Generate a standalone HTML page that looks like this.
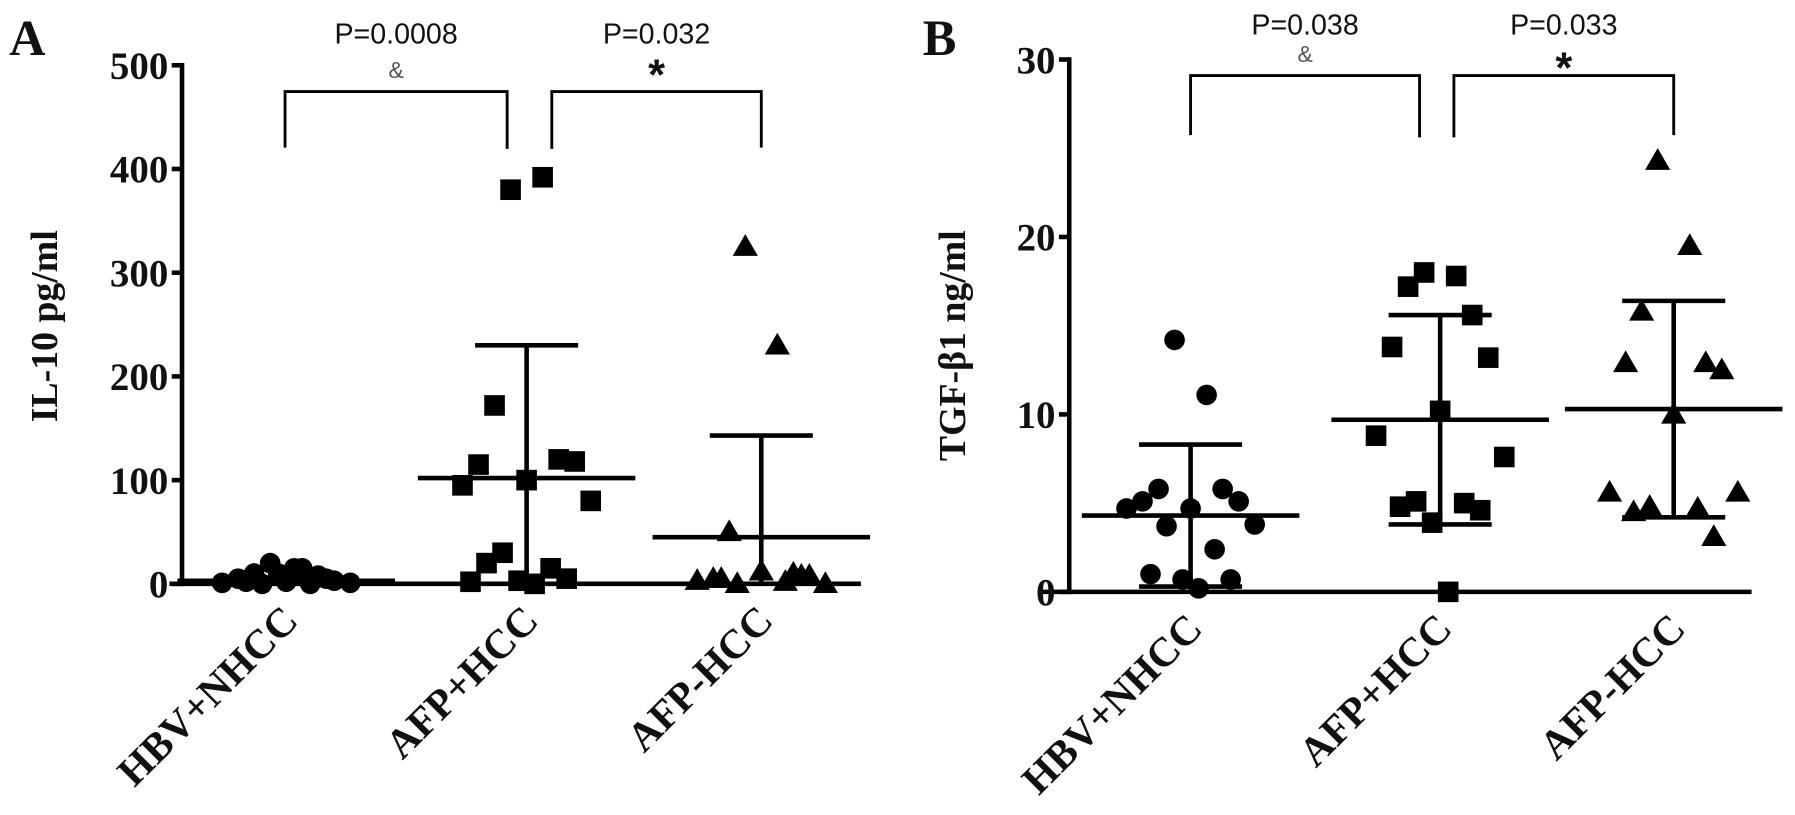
<!DOCTYPE html>
<html><head><meta charset="utf-8"><style>
body{margin:0;background:#fff}
svg{display:block}
.tk{font-family:"Liberation Serif",serif;font-size:34px;font-weight:bold;fill:#111}
.cat{font-family:"Liberation Serif",serif;font-size:36px;font-weight:bold;fill:#111}
.yt{font-family:"Liberation Serif",serif;font-size:33px;font-weight:bold;fill:#111}
.pv{font-family:"Liberation Sans",sans-serif;font-size:25px;fill:#111}
.pl{font-family:"Liberation Serif",serif;font-size:44px;font-weight:bold;fill:#111}
</style></head><body>
<svg id="c" width="1795" height="815"><g id="root" transform="scale(1.1448)"></g></svg>
<script>
const categories=["HBV+NHCC","AFP+HCC","AFP-HCC"];
const ilHBV=[20,15,10,8,5,3,2,1,1,0,0,2,5,10,15];
const ilAFPp=[380,392,172,120,115,118,100,95,80,30,15,20,5,3,0,2];
const ilAFPn=[325,230,50,10,5,8,12,3,0,0,2,5,8];
const ilMean=[3,102,45];const ilSD=[3,128,98];
const tgHBV=[14.2,11.1,5.8,5.8,5.1,5.1,4.7,4.7,3.8,3.7,2.4,1,0.7,0.7,0.2];
const tgAFPp=[18,17.8,17.2,15.6,13.8,13.2,10.2,8.8,7.6,5.1,5.0,4.8,4.6,3.9,0];
const tgAFPn=[24.3,19.5,15.8,12.9,12.9,12.5,10,5.6,5.6,4.8,4.7,4.5,3.1];
const tgMean=[4.3,9.7,10.3];const tgSD=[4.0,5.9,6.1];
const ilTicks=[0,100,200,300,400,500];const tgTicks=[0,10,20,30];
const pA=["P=0.0008","P=0.032"];const pB=["P=0.038","P=0.033"];
const NS="http://www.w3.org/2000/svg";const svg=document.getElementById('root');
function mk(t,a,p){const e=document.createElementNS(NS,t);for(const k in a)e.setAttribute(k,a[k]);(p||svg).appendChild(e);return e;}
const jit=[-14,14,-28,28,-42,42,0,-56,56,-21,21,-35,35,-7,7,-49];
function panel(cfg){
 const g=mk('g',{});
 const y=v=>cfg.y0-(v/cfg.max)*(cfg.y0-cfg.yTop);
 const ax=mk('line',{x1:cfg.ax,y1:cfg.yTop-2,x2:cfg.ax,y2:cfg.y0+2,stroke:'#000','stroke-width':4},g);
 
 const xa=mk('line',{x1:cfg.xa0,y1:cfg.y0,x2:cfg.xa1,y2:cfg.y0,stroke:'#000','stroke-width':4},g);
 
 cfg.ticks.forEach(t=>{mk('line',{x1:cfg.ax-9,y1:y(t),x2:cfg.ax,y2:y(t),stroke:'#000','stroke-width':4},g);
  const tx=mk('text',{x:cfg.ax-12,y:y(t)+12,'text-anchor':'end',class:'tk'},g);tx.textContent=t;
  });
 const yt=mk('text',{transform:`translate(${cfg.ytx},${cfg.ytc}) rotate(-90)`,'text-anchor':'middle',class:'yt'},g);yt.textContent=cfg.title;
 
 const pl=mk('text',{x:cfg.plx,y:48,class:'pl'},g);pl.textContent=cfg.letter;
 
 cfg.series.forEach((s,i)=>{const cx=cfg.cx[i];
  const ct=mk('text',{transform:`translate(${cx+12},${cfg.y0+34}) rotate(-45)`,'text-anchor':'end',class:'cat'},g);ct.textContent=categories[i];
  
  s.forEach((v,j)=>{const px=cx+jit[j%jit.length],py=y(v);let m;
   if(i==0)m=mk('circle',{cx:px,cy:py,r:9},g);
   else if(i==1)m=mk('rect',{x:px-9,y:py-9,width:18,height:18},g);
   else m=mk('polygon',{points:`${px},${py-11} ${px+11},${py+8} ${px-11},${py+8}`},g);
   });
  const mn=cfg.mean[i],sd=cfg.sd[i];
  const eb=mk('path',{d:`M${cx-95},${y(mn)}H${cx+95}M${cx},${y(Math.max(0,mn-sd))}V${y(mn+sd)}M${cx-45},${y(mn+sd)}H${cx+45}`+(mn-sd>0?`M${cx-45},${y(mn-sd)}H${cx+45}`:''),stroke:'#000','stroke-width':4,fill:'none'},g);
  });
 cfg.br.forEach((b,k)=>{const p=mk('path',{d:`M${b[0]},${b[2]}V${cfg.brY}H${b[1]}V${b[3]}`,stroke:'#000','stroke-width':2.5,fill:'none'},g);
  
  const m=(b[0]+b[1])/2;const t=mk('text',{x:m,y:cfg.brY-cfg.pOff,'text-anchor':'middle',class:'pv'},g);t.textContent=cfg.p[k];
  
  const s=mk('text',{x:m,y:k?cfg.brY+cfg.sOff:cfg.brY-12,'text-anchor':'middle',class:'pv',style:k?'font-size:38px;font-weight:bold':'font-size:20px;fill:#555'},g);s.textContent=k?'*':'&';
  });
}
panel({name:'panel-a',letter:'A',plx:8,ax:159,xa0:148,xa1:752,yTop:57,y0:510,max:500,ticks:ilTicks,title:'IL-10 pg/ml',ytx:50,ytc:285,
 cx:[250,460,665],series:[ilHBV,ilAFPp,ilAFPn],mean:ilMean,sd:ilSD,br:[[249,443,129,130],[482,665,130,129]],brY:80,pOff:42,sOff:-2,p:pA});
panel({name:'panel-b',letter:'B',plx:806,ax:934,xa0:910,xa1:1530,yTop:52,y0:517,max:30,ticks:tgTicks,title:'TGF-β1 ng/ml',ytx:843,ytc:302,
 cx:[1040,1258,1462],series:[tgHBV,tgAFPp,tgAFPn],mean:tgMean,sd:tgSD,br:[[1040,1240,118,120],[1270,1462,120,118]],brY:66,pOff:36,sOff:6,p:pB});
</script></body></html>
